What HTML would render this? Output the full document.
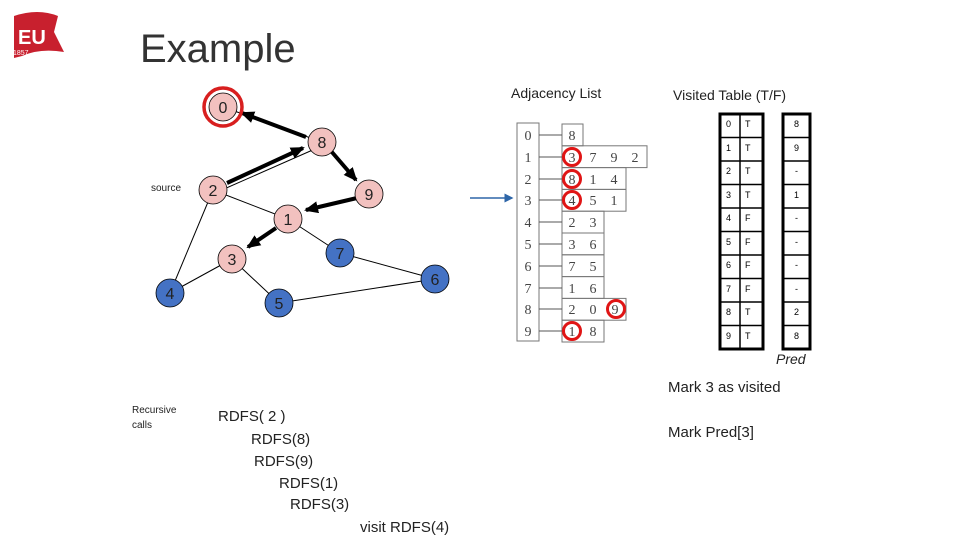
<!DOCTYPE html>
<html><head><meta charset="utf-8"><style>
body{margin:0;width:960px;height:540px;background:#fff;overflow:hidden}
svg{display:block}
text{font-family:"Liberation Sans",sans-serif}
text.serif{font-family:"Liberation Serif",serif}
</style></head><body>
<svg width="960" height="540" viewBox="0 0 960 540" xmlns="http://www.w3.org/2000/svg">
<defs>
<marker id="ah" markerWidth="3.5" markerHeight="3" refX="3" refY="1.5" orient="auto" markerUnits="strokeWidth"><path d="M0,0 L3.5,1.5 L0,3 z" fill="#000"/></marker>
<marker id="bh" markerWidth="6" markerHeight="6" refX="5" refY="3" orient="auto" markerUnits="strokeWidth"><path d="M0,0 L6,3 L0,6 z" fill="#2e66a8"/></marker>
</defs>
<!-- logo -->
<path d="M14,16 Q38,8 58,16 L54,32 L64,52 Q40,48 22,56 L14,58 Z" fill="#c8202e"/>
<text x="18" y="44" font-size="20" font-weight="bold" fill="#fff">EU</text>
<text x="13" y="55" font-size="7" fill="#fff">1857</text>
<text x="140" y="62" font-size="40" fill="#333">Example</text>
<!-- graph thin edges -->
<g stroke="#000" stroke-width="1">
<line x1="213" y1="190" x2="288" y2="219"/>
<line x1="213" y1="190" x2="170" y2="293"/>
<line x1="288" y1="219" x2="340" y2="253"/>
<line x1="340" y1="253" x2="435" y2="279"/>
<line x1="232" y1="259" x2="170" y2="293"/>
<line x1="232" y1="259" x2="279" y2="303"/>
<line x1="279" y1="303" x2="435" y2="279"/>
<line x1="322" y1="142" x2="223" y2="107"/>
<line x1="322" y1="142" x2="213" y2="190" transform="translate(2,3)"/>
</g>
<g stroke="#000" stroke-width="4" marker-end="url(#ah)">
<line x1="306" y1="137" x2="242" y2="113"/>
<line x1="227" y1="183" x2="303" y2="148"/>
<line x1="331" y1="151" x2="356" y2="180"/>
<line x1="357" y1="198" x2="306" y2="210"/>
<line x1="276" y1="228" x2="248" y2="247"/>
</g>
<g font-size="16" text-anchor="middle" stroke="#000" stroke-width="0.8">
<circle cx="223" cy="107" r="14" fill="#f2c1bf"/>
<circle cx="322" cy="142" r="14" fill="#f2c1bf"/>
<circle cx="213" cy="190" r="14" fill="#f2c1bf"/>
<circle cx="369" cy="194" r="14" fill="#f2c1bf"/>
<circle cx="288" cy="219" r="14" fill="#f2c1bf"/>
<circle cx="232" cy="259" r="14" fill="#f2c1bf"/>
<circle cx="340" cy="253" r="14" fill="#4472c4"/>
<circle cx="170" cy="293" r="14" fill="#4472c4"/>
<circle cx="279" cy="303" r="14" fill="#4472c4"/>
<circle cx="435" cy="279" r="14" fill="#4472c4"/>
</g>
<circle cx="223" cy="107" r="19" fill="none" stroke="#d81f1f" stroke-width="3.5"/>
<g font-size="16" text-anchor="middle" fill="#222">
<text x="223" y="113">0</text><text x="322" y="148">8</text><text x="213" y="196">2</text>
<text x="369" y="200">9</text><text x="288" y="225">1</text><text x="232" y="265">3</text>
<text x="340" y="259">7</text><text x="170" y="299">4</text><text x="279" y="309">5</text><text x="435" y="285">6</text>
</g>
<text x="151" y="191" font-size="10" fill="#222">source</text>
<!-- adjacency -->
<text x="511" y="98" font-size="14" fill="#222">Adjacency List</text>
<line x1="470" y1="198" x2="512" y2="198" stroke="#2e66a8" stroke-width="1.5" marker-end="url(#bh)"/>
<g stroke="#777" stroke-width="1" fill="none">
<rect x="517" y="123" width="22" height="218"/>
<rect x="562" y="124" width="21" height="21.8"/>
<rect x="562" y="145.8" width="85" height="21.8"/>
<rect x="562" y="167.6" width="64" height="21.8"/>
<rect x="562" y="189.4" width="64" height="21.8"/>
<rect x="562" y="211.2" width="42" height="21.8"/>
<rect x="562" y="233" width="42" height="21.8"/>
<rect x="562" y="254.8" width="42" height="21.8"/>
<rect x="562" y="276.6" width="42" height="21.8"/>
<rect x="562" y="298.4" width="64" height="21.8"/>
<rect x="562" y="320.2" width="42" height="21.8"/>
<g stroke="#555">
<line x1="539" y1="135" x2="562" y2="135"/><line x1="539" y1="157" x2="562" y2="157"/>
<line x1="539" y1="179" x2="562" y2="179"/><line x1="539" y1="200" x2="562" y2="200"/>
<line x1="539" y1="222" x2="562" y2="222"/><line x1="539" y1="244" x2="562" y2="244"/>
<line x1="539" y1="266" x2="562" y2="266"/><line x1="539" y1="288" x2="562" y2="288"/>
<line x1="539" y1="309" x2="562" y2="309"/><line x1="539" y1="331" x2="562" y2="331"/>
</g></g>
<g font-size="14" fill="#444" text-anchor="middle">
<text class="serif" x="528" y="140">0</text><text class="serif" x="528" y="162">1</text><text class="serif" x="528" y="184">2</text><text class="serif" x="528" y="205">3</text><text class="serif" x="528" y="227">4</text>
<text class="serif" x="528" y="249">5</text><text class="serif" x="528" y="271">6</text><text class="serif" x="528" y="293">7</text><text class="serif" x="528" y="314">8</text><text class="serif" x="528" y="336">9</text>
<text class="serif" x="572" y="140">8</text>
<text class="serif" x="572" y="162">3</text><text class="serif" x="593" y="162">7</text><text class="serif" x="614" y="162">9</text><text class="serif" x="635" y="162">2</text>
<text class="serif" x="572" y="184">8</text><text class="serif" x="593" y="184">1</text><text class="serif" x="614" y="184">4</text>
<text class="serif" x="572" y="205">4</text><text class="serif" x="593" y="205">5</text><text class="serif" x="614" y="205">1</text>
<text class="serif" x="572" y="227">2</text><text class="serif" x="593" y="227">3</text>
<text class="serif" x="572" y="249">3</text><text class="serif" x="593" y="249">6</text>
<text class="serif" x="572" y="271">7</text><text class="serif" x="593" y="271">5</text>
<text class="serif" x="572" y="293">1</text><text class="serif" x="593" y="293">6</text>
<text class="serif" x="572" y="314">2</text><text class="serif" x="593" y="314">0</text><text class="serif" x="615" y="314">9</text>
<text class="serif" x="572" y="336">1</text><text class="serif" x="593" y="336">8</text>
</g>
<g fill="none" stroke="#e01515" stroke-width="3">
<circle cx="572" cy="157" r="8.5"/><circle cx="572" cy="179" r="8.5"/><circle cx="572" cy="200" r="8.5"/>
<circle cx="616" cy="309" r="8.5"/><circle cx="572" cy="331" r="8.5"/>
</g>
<!-- visited -->
<text x="673" y="100" font-size="14" fill="#222">Visited Table (T/F)</text>
<g stroke="#000" stroke-width="3" fill="none">
<rect x="720" y="114" width="43" height="235"/>
<rect x="783" y="114" width="27" height="235"/>
</g>
<g stroke="#000" stroke-width="1.5">
<line x1="740" y1="114" x2="740" y2="349"/>
<line x1="720" y1="137.5" x2="763" y2="137.5"/><line x1="783" y1="137.5" x2="810" y2="137.5"/>
<line x1="720" y1="161" x2="763" y2="161"/><line x1="783" y1="161" x2="810" y2="161"/>
<line x1="720" y1="184.5" x2="763" y2="184.5"/><line x1="783" y1="184.5" x2="810" y2="184.5"/>
<line x1="720" y1="208" x2="763" y2="208"/><line x1="783" y1="208" x2="810" y2="208"/>
<line x1="720" y1="231.5" x2="763" y2="231.5"/><line x1="783" y1="231.5" x2="810" y2="231.5"/>
<line x1="720" y1="255" x2="763" y2="255"/><line x1="783" y1="255" x2="810" y2="255"/>
<line x1="720" y1="278.5" x2="763" y2="278.5"/><line x1="783" y1="278.5" x2="810" y2="278.5"/>
<line x1="720" y1="302" x2="763" y2="302"/><line x1="783" y1="302" x2="810" y2="302"/>
<line x1="720" y1="325.5" x2="763" y2="325.5"/><line x1="783" y1="325.5" x2="810" y2="325.5"/>
</g>
<g font-size="9" fill="#000">
<text x="726" y="127">0</text><text x="745" y="127">T</text><text x="794" y="127">8</text>
<text x="726" y="151">1</text><text x="745" y="151">T</text><text x="794" y="151">9</text>
<text x="726" y="174">2</text><text x="745" y="174">T</text><text x="795" y="174">-</text>
<text x="726" y="198">3</text><text x="745" y="198">T</text><text x="794" y="198">1</text>
<text x="726" y="221">4</text><text x="745" y="221">F</text><text x="795" y="221">-</text>
<text x="726" y="245">5</text><text x="745" y="245">F</text><text x="795" y="245">-</text>
<text x="726" y="268">6</text><text x="745" y="268">F</text><text x="795" y="268">-</text>
<text x="726" y="292">7</text><text x="745" y="292">F</text><text x="795" y="292">-</text>
<text x="726" y="315">8</text><text x="745" y="315">T</text><text x="794" y="315">2</text>
<text x="726" y="339">9</text><text x="745" y="339">T</text><text x="794" y="339">8</text>
</g>
<text x="776" y="364" font-size="14" font-style="italic" fill="#222">Pred</text>
<text x="668" y="392" font-size="15" fill="#222">Mark 3 as visited</text>
<text x="668" y="437" font-size="15" fill="#222">Mark Pred[3]</text>
<text x="132" y="413" font-size="10" fill="#222">Recursive</text>
<text x="132" y="428" font-size="10" fill="#222">calls</text>
<g font-size="15" fill="#222">
<text x="218" y="421">RDFS( 2 )</text>
<text x="251" y="444">RDFS(8)</text>
<text x="254" y="466">RDFS(9)</text>
<text x="279" y="488">RDFS(1)</text>
<text x="290" y="509">RDFS(3)</text>
<text x="360" y="532">visit RDFS(4)</text>
</g>
</svg>
</body></html>
